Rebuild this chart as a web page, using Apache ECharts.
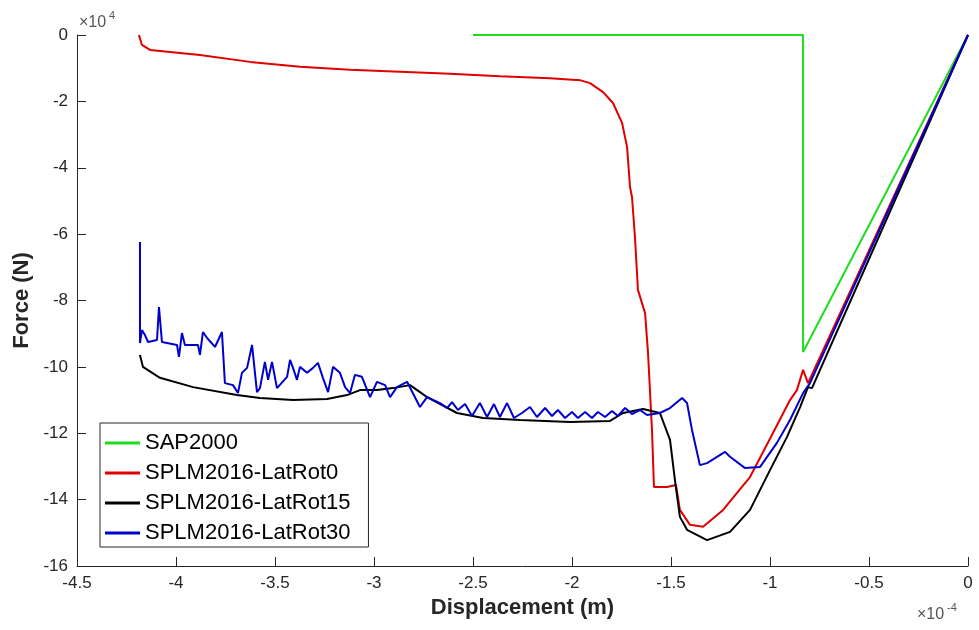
<!DOCTYPE html>
<html>
<head>
<meta charset="utf-8">
<script src="https://cdn.jsdelivr.net/npm/echarts@6/dist/echarts.min.js"></script>
<style>
  html, body { margin: 0; padding: 0; background: #fff; }
  #chart { width: 979px; height: 630px; }
</style>
</head>
<body>
<div id="chart"></div>
<script>
  // displacement in 1e-4 m, force in 1e4 N
  var xTicks = [-4.5, -4, -3.5, -3, -2.5, -2, -1.5, -1, -0.5, 0];
  var yTicks = [-16, -14, -12, -10, -8, -6, -4, -2, 0];
  var seriesNames = ['SAP2000', 'SPLM2016-LatRot0', 'SPLM2016-LatRot15', 'SPLM2016-LatRot30'];

  var sap2000 = [[-2.5, 0], [-0.833, 0], [-0.833, -9.55], [0, 0]];

  var latRot0 = [
    [-4.187, 0], [-4.172, -0.30], [-4.131, -0.45], [-3.879, -0.60], [-3.626, -0.81],
    [-3.374, -0.96], [-3.121, -1.05], [-2.869, -1.11], [-2.616, -1.17], [-2.364, -1.24],
    [-2.111, -1.30], [-1.960, -1.36], [-1.909, -1.45], [-1.843, -1.72], [-1.793, -2.05],
    [-1.747, -2.65], [-1.722, -3.37], [-1.707, -4.58], [-1.697, -4.88], [-1.682, -6.09],
    [-1.667, -7.68], [-1.631, -8.38], [-1.616, -9.58], [-1.596, -11.90], [-1.586, -13.62],
    [-1.520, -13.62], [-1.475, -13.56], [-1.455, -14.31], [-1.404, -14.76], [-1.338, -14.82],
    [-1.237, -14.31], [-1.101, -13.32], [-0.985, -11.99], [-0.899, -11.00], [-0.864, -10.70],
    [-0.833, -10.09], [-0.808, -10.49], [0, 0]
  ];

  var latRot15 = [
    [-4.182, -9.64], [-4.167, -10.00], [-4.081, -10.33], [-3.914, -10.61], [-3.692, -10.85],
    [-3.576, -10.94], [-3.409, -11.00], [-3.237, -10.97], [-3.136, -10.85], [-3.071, -10.70],
    [-2.985, -10.70], [-2.904, -10.64], [-2.818, -10.55], [-2.732, -10.91], [-2.581, -11.39],
    [-2.449, -11.54], [-2.263, -11.60], [-2.010, -11.66], [-1.808, -11.63], [-1.742, -11.39],
    [-1.641, -11.27], [-1.556, -11.39], [-1.505, -12.20], [-1.480, -13.41], [-1.455, -14.52],
    [-1.419, -14.91], [-1.318, -15.22], [-1.202, -14.97], [-1.101, -14.31], [-1.000, -13.11],
    [-0.914, -12.11], [-0.848, -11.21], [-0.808, -10.61], [-0.788, -10.64], [0, 0]
  ];

  var latRot30 = [
    [-4.182, -6.24], [-4.182, -9.28], [-4.172, -8.89], [-4.157, -9.04], [-4.141, -9.25],
    [-4.096, -9.19], [-4.086, -8.20], [-4.071, -9.25], [-3.995, -9.34], [-3.985, -9.70],
    [-3.970, -8.98], [-3.955, -9.34], [-3.889, -9.34], [-3.879, -9.64], [-3.864, -8.95],
    [-3.843, -9.13], [-3.803, -9.40], [-3.768, -8.95], [-3.753, -10.49], [-3.712, -10.55],
    [-3.687, -10.79], [-3.667, -10.18], [-3.641, -10.03], [-3.616, -9.34], [-3.591, -10.76],
    [-3.576, -10.64], [-3.551, -9.85], [-3.535, -10.39], [-3.515, -9.85], [-3.490, -10.64],
    [-3.439, -10.30], [-3.424, -9.79], [-3.409, -10.03], [-3.389, -10.39], [-3.374, -10.00],
    [-3.338, -10.18], [-3.308, -10.03], [-3.283, -9.88], [-3.258, -10.33], [-3.232, -10.76],
    [-3.207, -10.00], [-3.172, -10.18], [-3.146, -10.61], [-3.121, -10.79], [-3.096, -10.24],
    [-3.061, -10.30], [-3.020, -10.91], [-2.985, -10.45], [-2.944, -10.55], [-2.919, -10.91],
    [-2.884, -10.61], [-2.833, -10.45], [-2.768, -11.21], [-2.732, -10.91], [-2.667, -11.09],
    [-2.631, -11.24], [-2.606, -11.06], [-2.576, -11.30], [-2.540, -11.12], [-2.505, -11.48],
    [-2.465, -11.09], [-2.429, -11.51], [-2.394, -11.12], [-2.364, -11.51], [-2.328, -11.09],
    [-2.293, -11.54], [-2.253, -11.39], [-2.212, -11.21], [-2.177, -11.51], [-2.136, -11.24],
    [-2.101, -11.48], [-2.071, -11.30], [-2.035, -11.54], [-2.000, -11.36], [-1.970, -11.54],
    [-1.934, -11.36], [-1.899, -11.54], [-1.869, -11.36], [-1.833, -11.51], [-1.798, -11.33],
    [-1.768, -11.48], [-1.732, -11.24], [-1.697, -11.42], [-1.657, -11.30], [-1.621, -11.45],
    [-1.556, -11.39], [-1.505, -11.24], [-1.444, -10.94], [-1.419, -11.09], [-1.394, -11.90],
    [-1.354, -12.96], [-1.318, -12.90], [-1.227, -12.56], [-1.202, -12.71], [-1.126, -13.05],
    [-1.051, -13.02], [-0.965, -12.29], [-0.899, -11.60], [-0.833, -10.79], [-0.798, -10.49],
    [0, 0]
  ];

  var lineColors = ['#1fdc1f', '#e00000', '#000000', '#0000cc'];
  var seriesData = [sap2000, latRot0, latRot15, latRot30];

  var font = 'Liberation Sans, Arial, sans-serif';
  var axisGrey = '#262626';

  var chart = echarts.init(document.getElementById('chart'));

  var series = seriesNames.map(function (name, i) {
    return {
      name: name,
      type: 'line',
      data: seriesData[i],
      symbol: 'none',
      showSymbol: false,
      animation: false,
      lineStyle: { color: lineColors[i], width: 2 },
      itemStyle: { color: lineColors[i] },
      z: 2 + i
    };
  });

  chart.setOption({
    backgroundColor: '#fff',
    animation: false,
    grid: { left: 77, right: 11, top: 35, bottom: 64, containLabel: false },
    xAxis: {
      type: 'value',
      min: xTicks[0],
      max: xTicks[xTicks.length - 1],
      interval: 0.5,
      name: 'Displacement (m)',
      nameLocation: 'middle',
      nameGap: 31,
      nameTextStyle: { fontFamily: font, fontSize: 22, fontWeight: 'bold', color: axisGrey },
      axisLine: { onZero: false, lineStyle: { color: axisGrey, width: 1 } },
      axisTick: { inside: true, length: 9, lineStyle: { color: axisGrey } },
      axisLabel: { fontFamily: font, fontSize: 17, color: axisGrey, margin: 9 },
      splitLine: { show: false }
    },
    yAxis: {
      type: 'value',
      min: yTicks[0],
      max: yTicks[yTicks.length - 1],
      interval: 2,
      name: 'Force (N)',
      nameLocation: 'middle',
      nameGap: 41,
      nameTextStyle: { fontFamily: font, fontSize: 22, fontWeight: 'bold', color: axisGrey },
      axisLine: { show: true, onZero: false, lineStyle: { color: axisGrey, width: 1 } },
      axisTick: { show: true, inside: true, length: 9, lineStyle: { color: axisGrey } },
      axisLabel: { fontFamily: font, fontSize: 17, color: axisGrey, margin: 9 },
      splitLine: { show: false }
    },
    legend: {
      data: seriesNames,
      orient: 'vertical',
      left: 100,
      top: 423,
      padding: [9, 18, 3, 5],
      itemGap: 8,
      itemWidth: 35,
      itemHeight: 3,
      icon: 'rect',
      borderColor: axisGrey,
      borderWidth: 1,
      backgroundColor: '#fff',
      textStyle: { fontFamily: font, fontSize: 22, color: '#000' }
    },
    graphic: [
      { type: 'text', left: 79, top: 15, style: { text: '×10', font: '16px ' + font, fill: '#555' } },
      { type: 'text', left: 109, top: 10, style: { text: '4', font: '11px ' + font, fill: '#555' } },
      { type: 'text', left: 917, top: 607, style: { text: '×10', font: '16px ' + font, fill: '#555' } },
      { type: 'text', left: 947, top: 602, style: { text: '-4', font: '11px ' + font, fill: '#555' } }
    ],
    series: series
  });
</script>
</body>
</html>
